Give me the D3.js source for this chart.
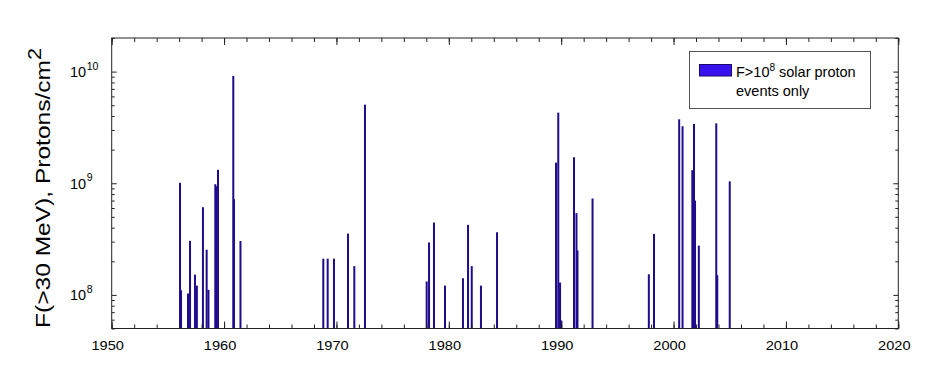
<!DOCTYPE html>
<html><head><meta charset="utf-8">
<script src="https://cdn.jsdelivr.net/npm/d3@7"></script>
<style>
body{margin:0;background:#fff}
text{font-family:"Liberation Sans",Arial,Helvetica,sans-serif;fill:#000}
</style>
</head><body>
<svg id="c" width="940" height="382"></svg>
<script>
// ---- data ----
const eventYears = [1956.08,1956.17,1956.79,1956.97,1957.41,1957.58,1958.12,1958.45,1958.61,1959.22,1959.28,1959.46,
  1960.82,1960.88,1961.46,1968.83,1969.22,1969.78,1971.03,1971.59,1972.54,1978.03,1978.24,1978.68,1979.66,
  1981.26,1981.71,1982.04,1982.86,1984.29,1989.54,1989.74,1989.9,1990.01,1991.14,1991.36,1991.45,1992.79,
  1997.8,1998.26,2000.5,2000.8,2001.67,2001.82,2001.91,2002.25,2003.8,2003.89,2005.0];
const eventFluence = [1.01e9,1.1e8,1.03e8,3.05e8,1.52e8,1.21e8,6.1e8,2.54e8,1.11e8,9.8e8,9.4e8,1.32e9,
  9.15e9,7.2e8,3.04e8,2.11e8,2.11e8,2.11e8,3.54e8,1.81e8,5.06e9,1.32e8,2.95e8,4.45e8,1.21e8,
  1.41e8,4.24e8,1.81e8,1.21e8,3.64e8,1.53e9,4.29e9,1.29e8,5.9e7,1.71e9,5.4e8,2.5e8,7.3e8,
  1.53e8,3.52e8,3.74e9,3.24e9,1.31e9,3.4e9,7.0e8,2.76e8,3.44e9,1.5e8,1.04e9];
const xTickYears = [1950,1960,1970,1980,1990,2000,2010,2020];
const xMinorYears = d3.range(1950,2021,2);
const yTickExponents = [8,9,10];
const yTitle = "F(>30 MeV), Protons/cm";
const yTitleSup = "2";
const legendLine1 = ["F>10","8"," solar proton"];
const legendLine2 = "events only";

// ---- layout ----
const svg = d3.select("#c");
const X0=111.7, X1=898.3, Y0=328.5, Y1=38;
const x = d3.scaleLinear().domain([1950,2020]).range([X0,X1]);
const y = d3.scaleLog().domain([5e7,2e10]).range([Y0,Y1]);
const yMinor = [];
for (let e=7;e<=10;e++) for (let m=2;m<=9;m++){const v=m*Math.pow(10,e); if(v>=5e7 && v<=2e10) yMinor.push(v);}
const yMajor = yTickExponents.map(e=>Math.pow(10,e));

// bars
const events = eventYears.map((yr,i)=>({yr, v:eventFluence[i]}));
svg.append("g").selectAll("rect").data(events).join("rect")
  .attr("x",d=>x(d.yr)-1).attr("width",2)
  .attr("y",d=>y(d.v)).attr("height",d=>y.range()[0]-y(d.v))
  .attr("fill","#1e0c8c");

// axes ticks (inward)
function clean(g){ g.select(".domain").remove(); g.selectAll("line").attr("stroke","#222"); g.selectAll("text").remove(); }
svg.append("g").attr("transform",`translate(0,${Y0})`)
  .call(d3.axisBottom(x).tickValues(xMinorYears).tickSizeInner(-4).tickSizeOuter(0)).call(clean);
svg.append("g").attr("transform",`translate(0,${Y0})`)
  .call(d3.axisBottom(x).tickValues(xTickYears).tickSizeInner(-7).tickSizeOuter(0)).call(clean);
svg.append("g").attr("transform",`translate(0,${Y1})`)
  .call(d3.axisTop(x).tickValues(xMinorYears).tickSizeInner(-4).tickSizeOuter(0)).call(clean);
svg.append("g").attr("transform",`translate(0,${Y1})`)
  .call(d3.axisTop(x).tickValues(xTickYears).tickSizeInner(-7).tickSizeOuter(0)).call(clean);
svg.append("g").attr("transform",`translate(${X0},0)`)
  .call(d3.axisLeft(y).tickValues(yMinor).tickSizeInner(-3).tickSizeOuter(0)).call(clean);
svg.append("g").attr("transform",`translate(${X0},0)`)
  .call(d3.axisLeft(y).tickValues(yMajor).tickSizeInner(-5).tickSizeOuter(0)).call(clean);
svg.append("g").attr("transform",`translate(${X1},0)`)
  .call(d3.axisRight(y).tickValues(yMinor).tickSizeInner(-3).tickSizeOuter(0)).call(clean);
svg.append("g").attr("transform",`translate(${X1},0)`)
  .call(d3.axisRight(y).tickValues(yMajor).tickSizeInner(-5).tickSizeOuter(0)).call(clean);

// frame
svg.append("rect").attr("x",X0).attr("y",Y1).attr("width",X1-X0).attr("height",Y0-Y1)
  .attr("fill","none").attr("stroke","#222").attr("stroke-width",1);

// x labels
const xl = svg.append("g").attr("transform",`translate(0,${Y0})`)
  .call(d3.axisBottom(x).tickValues(xTickYears).tickSize(0).tickFormat(d3.format("d")));
xl.select(".domain").remove();
xl.selectAll("text").attr("dy",null).attr("y",21).attr("dx",-4.5)
  .style("font-size","13.5px").attr("textLength",32.5).attr("lengthAdjust","spacingAndGlyphs");

// y labels
const yl = svg.append("g");
yMajor.forEach((v,i)=>{
  const t = yl.append("text").attr("x",70).attr("y",y(v)+5.5).style("font-size","14.5px");
  t.append("tspan").text("10");
  t.append("tspan").attr("dy",-7.5).style("font-size","10.5px").attr("dx",0.5).text(String(yTickExponents[i]));
});

// y title
const ty = svg.append("text").attr("transform",`translate(50,188) rotate(-90)`)
  .attr("text-anchor","middle").style("font-size","20.5px")
  .attr("textLength",280).attr("lengthAdjust","spacingAndGlyphs");
ty.append("tspan").text(yTitle);
ty.append("tspan").attr("dy",-9).style("font-size","18px").text(yTitleSup);

// legend
const lg = svg.append("g");
lg.append("rect").attr("x",689.5).attr("y",51.5).attr("width",181).attr("height",57)
  .attr("fill","#fff").attr("stroke","#555");
lg.append("rect").attr("x",699.5).attr("y",64.5).attr("width",32).attr("height",11.5)
  .attr("fill","#3a12ee").attr("stroke","#1a0a70");
const lt = lg.append("text").attr("x",736).attr("y",77).style("font-size","14.5px");
lt.append("tspan").text(legendLine1[0]);
lt.append("tspan").attr("dy",-6).style("font-size","10px").text(legendLine1[1]);
lt.append("tspan").attr("dy",6).text(legendLine1[2]);
lg.append("text").attr("x",736).attr("y",95.5).style("font-size","14.5px").text(legendLine2);
</script>
</body></html>
